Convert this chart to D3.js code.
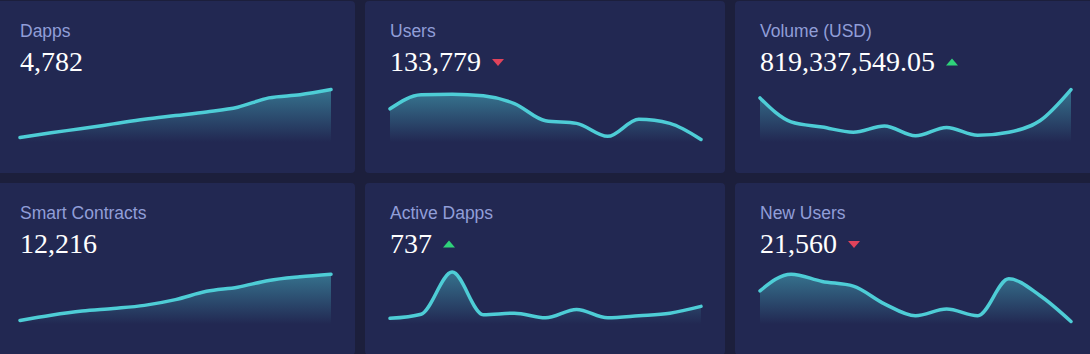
<!DOCTYPE html>
<html lang="en">
<head>
    <meta charset="UTF-8">
    <title>Stats</title>
    <script src="https://d3js.org/d3.v7.min.js"></script>
    <style>
        body { margin: 0; background: #1c1f3c; overflow: hidden; }
    </style>
</head>
<body>
<script>

    // card titles / headline numbers / trend arrows
    var titles = ["Dapps", "Users", "Volume (USD)", "Smart Contracts", "Active Dapps", "New Users"];
    var values = ["4,782", "133,779", "819,337,549.05", "12,216", "737", "21,560"];
    var trends = [null, "down", "up", null, "up", "down"];

    // sparkline series, relative height 0..100
    var dapps = [5, 14, 22, 31, 40, 47, 54, 63, 81, 87, 97];
    var users = [60, 87, 88, 85, 70, 37, 32, 7, 40, 32, 1];
    var volume = [81, 35, 25, 15, 27, 8, 24, 9, 15, 37, 97];
    var contracts = [3, 13, 21, 26, 32, 43, 59, 67, 80, 87, 92];
    var activeDapps = [7, 15, 96, 14, 17, 8, 24, 8, 12, 17, 30];
    var newUsers = [60, 92, 78, 69, 35, 12, 25, 12, 83, 51, 1];

    var series = [dapps, users, volume, contracts, activeDapps, newUsers];

    var width = 1090;
    var height = 354;
    var colX = [-5, 365, 735];
    var rowY = [1, 183];
    var cardW = 360;
    var cardH = 172;

    var svg = d3.select("body").append("svg")
        .attr("width", width)
        .attr("height", height);

    svg.append("rect")
        .attr("width", width)
        .attr("height", height)
        .attr("fill", "#1c1f3c");

    var grad = svg.append("defs").append("linearGradient")
        .attr("id", "fade")
        .attr("x1", 0).attr("y1", 0)
        .attr("x2", 0).attr("y2", 1);
    grad.append("stop").attr("offset", "0%")
        .attr("stop-color", "#4ecdd6").attr("stop-opacity", 0.45);
    grad.append("stop").attr("offset", "100%")
        .attr("stop-color", "#4ecdd6").attr("stop-opacity", 0.0);

    var xScale = d3.scaleLinear().domain([0, 10]).range([25, 336]);
    var yScale = d3.scaleLinear().domain([0, 100]).range([139, 87]);

    var line = d3.line()
        .x(function (d, i) { return xScale(i); })
        .y(function (d) { return yScale(d); })
        .curve(d3.curveMonotoneX);

    var area = d3.area()
        .x(function (d, i) { return xScale(i); })
        .y0(141)
        .y1(function (d) { return yScale(d); })
        .curve(d3.curveMonotoneX);

    for (var k = 0; k < 6; k++) {
        var g = svg.append("g")
            .attr("transform", "translate(" + colX[k % 3] + "," + rowY[Math.floor(k / 3)] + ")");

        g.append("rect")
            .attr("width", cardW)
            .attr("height", cardH)
            .attr("rx", 4)
            .attr("fill", "#222852");

        g.append("text")
            .attr("x", 25)
            .attr("y", 36)
            .attr("font-family", "'Liberation Sans', Arial, sans-serif")
            .attr("font-size", "17.5px")
            .attr("fill", "#919ed8")
            .text(titles[k]);

        var val = g.append("text")
            .attr("x", 25)
            .attr("y", 70)
            .attr("font-family", "'Liberation Serif', 'Times New Roman', serif")
            .attr("font-size", "28px")
            .attr("fill", "#ffffff")
            .text(values[k]);

        if (trends[k]) {
            var x0 = 25 + val.node().getComputedTextLength() + 11;
            var pts = trends[k] === "up"
                ? [[x0, 64.5], [x0 + 12, 64.5], [x0 + 6, 57.5]]
                : [[x0, 58], [x0 + 12, 58], [x0 + 6, 65]];
            g.append("polygon")
                .attr("points", pts.map(function (p) { return p.join(","); }).join(" "))
                .attr("fill", trends[k] === "up" ? "#2fd37a" : "#e0435b");
        }

        g.append("path")
            .datum(series[k])
            .attr("fill", "url(#fade)")
            .attr("d", area);

        g.append("path")
            .datum(series[k])
            .attr("fill", "none")
            .attr("stroke", "#4ecdd6")
            .attr("stroke-width", 3.5)
            .attr("stroke-linecap", "round")
            .attr("d", line);
    }

</script>
</body>
</html>
